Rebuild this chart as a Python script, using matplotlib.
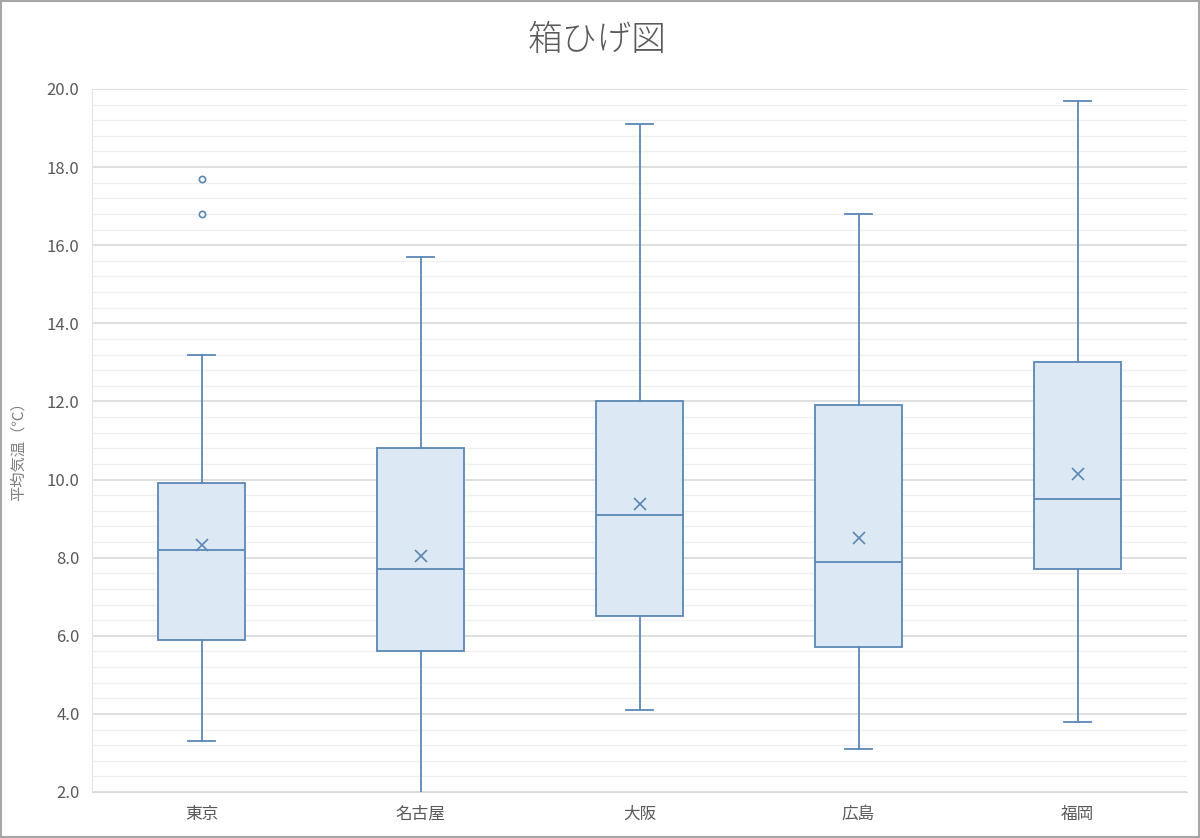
import matplotlib
matplotlib.use('Agg')
import matplotlib.pyplot as plt
from matplotlib.ticker import MultipleLocator
from matplotlib.patches import Rectangle

plt.rcParams['font.family'] = ['Noto Sans CJK JP', 'DejaVu Sans']

# data
cities = ['東京', '名古屋', '大阪', '広島', '福岡']
whis_lo = [3.3, 1.9, 4.1, 3.1, 3.8]
q1 = [5.9, 5.6, 6.5, 5.7, 7.7]
med = [8.2, 7.7, 9.1, 7.9, 9.5]
q3 = [9.9, 10.8, 12.0, 11.9, 13.0]
whis_hi = [13.2, 15.7, 19.1, 16.8, 19.7]
means = [8.33, 8.04, 9.37, 8.50, 10.15]
outliers = [[16.8, 17.7], [], [], [], []]

edge = '#5b87b5'
fill = '#dde8f5'
grey = '#595959'

stats = []
for i in range(len(cities)):
    stats.append({'label': cities[i], 'whislo': whis_lo[i], 'q1': q1[i], 'med': med[i],
                  'q3': q3[i], 'whishi': whis_hi[i], 'mean': means[i], 'fliers': outliers[i]})

fig = plt.figure(figsize=(12, 8.38), dpi=100)
ax = fig.add_axes([0.0767, 0.0549, 0.9125, 0.8389])

lw = 1.3
ax.bxp(stats, positions=range(1, 6), widths=0.4, patch_artist=True, showmeans=True,
       boxprops=dict(facecolor=fill, edgecolor=edge, linewidth=lw),
       medianprops=dict(color=edge, linewidth=lw),
       whiskerprops=dict(color=edge, linewidth=lw),
       capprops=dict(color=edge, linewidth=lw),
       capwidths=0.12,
       meanprops=dict(marker='x', markeredgecolor=edge, markersize=9, markeredgewidth=1.2),
       flierprops=dict(marker='o', markerfacecolor='white', markeredgecolor=edge,
                       markersize=4.5, markeredgewidth=1.2),
       zorder=3)

ax.set_xlim(0.5, 5.5)
ax.set_ylim(2.0, 20.0)
ax.yaxis.set_major_locator(MultipleLocator(2.0))
ax.yaxis.set_minor_locator(MultipleLocator(0.4))
ax.yaxis.set_major_formatter(matplotlib.ticker.FormatStrFormatter('%.1f'))
ax.grid(axis='y', which='major', color='#d9d9d9', linewidth=1.2, zorder=0)
ax.grid(axis='y', which='minor', color='#f0f0f0', linewidth=1.0, zorder=0)
ax.set_axisbelow(True)

for s in ['top', 'right']:
    ax.spines[s].set_visible(False)
ax.spines['left'].set_color('#e3e3e3')
ax.spines['bottom'].set_color('#d9d9d9')
ax.tick_params(which='both', length=0, colors=grey, labelsize=12)
ax.tick_params(axis='y', pad=9)
ax.tick_params(axis='x', pad=10)

ax.set_ylabel('平均気温（℃）', color='#7f7f7f', fontsize=11)
ax.yaxis.set_label_coords(-0.060, 0.49)
fig.text(0.498, 0.952, '箱ひげ図', ha='center', va='center', fontsize=25,
         color=grey, fontweight='light')

fig.patches.append(Rectangle((0.001, 0.001), 0.998, 0.998, transform=fig.transFigure,
                             fill=False, edgecolor='#a6a6a6', linewidth=1.5))

fig.savefig('out.png', dpi=100)
